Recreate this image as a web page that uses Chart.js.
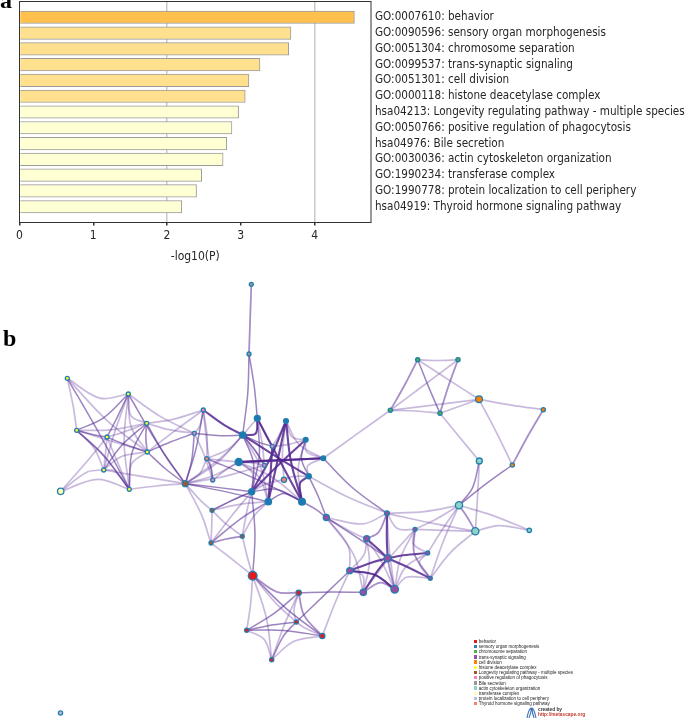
<!DOCTYPE html>
<html>
<head>
<meta charset="utf-8">
<title>Enrichment bars and network</title>
<script src="https://cdn.jsdelivr.net/npm/chart.js@4"></script>
<style>
  html, body { margin: 0; padding: 0; background: #fff; }
  #page { position: relative; width: 685px; height: 719px; overflow: hidden; }
  canvas { position: absolute; left: 0; }
  #bars { top: 0; }
  #network { top: 265px; }
  .panel { position: absolute; font: bold 24px "Liberation Serif", serif; color: #000; line-height: 1; }
  #legend { position: absolute; left: 474px; top: 639px; font: 4.5px/5.2px "Liberation Sans", sans-serif; color: #222; white-space: nowrap; }
  #legend i { display: inline-block; width: 3.4px; height: 3.4px; margin-right: 1.4px; }
  #credit { position: absolute; left: 538px; top: 707px; font: bold 4.8px/5.4px "Liberation Sans", sans-serif; color: #333; }
  #credit span { color: #c0392b; display: block; }
  #logo { position: absolute; left: 526px; top: 707px; }
</style>
</head>
<body>
<div id="page">
  <canvas id="bars" width="685" height="265"></canvas>
  <canvas id="network" width="685" height="454"></canvas>
  <div class="panel" style="left:0;top:-12px">a</div>
  <div class="panel" style="left:3px;top:326px">b</div>
  <div id="legend"></div>
  <svg id="logo" width="11" height="11" viewBox="0 0 11 11" fill="none" stroke="#3b74b8" stroke-width="1.1">
    <path d="M1 11C2 6 3 2 5 1C6 4 4 8 3 11M6 1C8 2 9 6 10 11M6 1C6 5 7 8 8 11"/>
  </svg>
  <div id="credit">created by<span>http://metascape.org</span></div>
</div>
<script>
// bar chart data
const terms = [
  'GO:0007610: behavior',
  'GO:0090596: sensory organ morphogenesis',
  'GO:0051304: chromosome separation',
  'GO:0099537: trans-synaptic signaling',
  'GO:0051301: cell division',
  'GO:0000118: histone deacetylase complex',
  'hsa04213: Longevity regulating pathway - multiple species',
  'GO:0050766: positive regulation of phagocytosis',
  'hsa04976: Bile secretion',
  'GO:0030036: actin cytoskeleton organization',
  'GO:1990234: transferase complex',
  'GO:1990778: protein localization to cell periphery',
  'hsa04919: Thyroid hormone signaling pathway'
];
const logP = [4.54, 3.68, 3.65, 3.26, 3.11, 3.06, 2.97, 2.88, 2.81, 2.76, 2.47, 2.40, 2.20];
const barColors = ['#ffc04d', '#fee08f', '#fee08f', '#fee08f', '#fee08f', '#fee08f',
  '#ffffd4', '#ffffd4', '#ffffd4', '#ffffd4', '#ffffd4', '#ffffd4', '#ffffd4'];

// legend of the network
const legendNames = ['behavior', 'sensory organ morphogenesis', 'chromosome separation', 'trans-synaptic signaling',
  'cell division', 'histone deacetylase complex', 'Longevity regulating pathway - multiple species',
  'positive regulation of phagocytosis', 'Bile secretion', 'actin cytoskeleton organization',
  'transferase complex', 'protein localization to cell periphery', 'Thyroid hormone signaling pathway'];
const legendColors = ['#e41a1c', '#377eb8', '#4daf4a', '#984ea3', '#ff7f00', '#ffff33', '#a65628',
  '#f781bf', '#999999', '#8dd3c7', '#ffffb3', '#bebada', '#fb8072'];

// network nodes
const nodeIds = ['y1','y2','y3','y4','y5','y6','y7','y8','y9','t1','t2','p1','p2','p3','s1','b1','b2','b3','b4',
  'c1','c2','c3','c4','c5','c6','c7','c8','c9','c10','q1','q2','s2','m0',
  'm1','m2','m3','m4','m5','m6','m7','m8','m9','k1','k2','k3','k4',
  'g1','g2','g3','g4','o1','o2','o3','r1','r2','r3','r4','r5','r6','z1'];
const nodeX = [67.3,128.3,76.7,107,146.7,147.3,103.7,129.3,60.7,251.3,249,203.3,194.3,212.7,206.7,185.3,212,242.3,211,
  242.7,257.3,286,305.7,323.3,238.7,308.7,251.7,268.3,302,272.3,264.3,284,326.3,
  387,415,427.7,430.3,366.7,387.7,349.7,363.3,394.7,479.3,459,475.3,529.3,
  417.7,458,390.3,440,479,543.3,512.3,252.7,298.7,296.3,246.7,322.3,271.7,60.5];
const nodeY = [378.3,394,430.3,437,423.3,452,470,489.3,491.3,284.3,354,410,433.3,480,458.7,483.7,510.3,536.3,543,
  435,418.3,421,439.7,458.3,462,476.3,491.7,501.7,501.7,446.3,465.3,479.7,517.5,
  513.3,529.3,553,578.3,538.7,558.3,570.7,592.3,589.3,461,505.3,531.3,530.3,
  359.7,359.7,410.3,413.3,399.3,409.7,465,575.7,592.7,622,630.3,636,659.7,713];
const nodeColors = ['#ffff33','#ffff33','#ffff33','#ffff33','#ffff33','#ffff33','#ffff33','#ffff33','#ffffb3',
  '#999999','#999999','#f781bf','#f781bf','#f781bf','#fb8072','#a65628','#a65628','#a65628','#a65628',
  '#1f78b4','#1f78b4','#1f78b4','#1f78b4','#1f78b4','#1f78b4','#1f78b4','#1f78b4','#1f78b4','#1f78b4',
  '#f781bf','#f781bf','#fb8072','#984ea3',
  '#984ea3','#984ea3','#984ea3','#984ea3','#984ea3','#984ea3','#984ea3','#984ea3','#984ea3',
  '#8dd3c7','#8dd3c7','#8dd3c7','#8dd3c7',
  '#4daf4a','#4daf4a','#4daf4a','#4daf4a','#ff7f00','#ff7f00','#ff7f00',
  '#e41a1c','#e41a1c','#e41a1c','#e41a1c','#e41a1c','#e41a1c','#bebada'];
const nodeRadius = [2,2,2,2,2,2,2,2,3.2,2,2,2,2,2,2,3,2,2,2,
  3.2,3,2.4,2.4,2.4,3.6,2.6,3,3.2,3.4,2,2,2.6,3,
  2.4,2,2,2,3,3.6,3,3.2,3.8,3,3.6,3.6,2.2,
  2.1,2.1,2.1,2.1,3.4,2.1,2.1,4.4,2.6,2.1,2.1,2.6,2.1,2.1];

// edges, by strength
const straightEdges = ['g3-c5','g4-k1','o1-o2','o1-o3','o2-o3','o2-o3','g1-g2','g3-g4','t1-t2','t1-t2','g1-g3','g1-g3','g2-g3','g3-o1','g4-o1',
  'y1-y3','y5-y6','y5-y6','b3-b4','b3-b4','k2-k3','k2-k3','k1-k3','g2-g4','g2-g4','g1-o1','r1-r4'];
const lightEdges = ['y1-y2','y1-y6','y2-y7','y2-y8','y2-y6','y2-y5','y3-y5','y3-y6','y3-y7','y3-y8','y4-y7','y4-y5',
  'y6-y7','y6-y8','y7-y8','y9-y7','y9-y8','y9-y4','y4-y8','y7-b1','y8-b1','y5-p1','y6-p1','y2-p2','y5-p2',
  'p1-p2','p1-s1','p1-p3','p2-p3','s1-c6','s1-c1','p3-c6','b1-s1','b1-c1','b1-c6','b1-b2','b1-b4','b1-q2','b1-c2',
  'b2-b3','b2-b4','b3-c8','b3-c9','b4-c8','b2-c9','c6-c8','c6-c9','c6-q2','c1-q2','c2-q2','q1-c3','q1-c4','c3-c4','c3-c5',
  'c4-c5','c5-c7','c4-c10','s2-c3','s2-c8','s2-c7','c7-m1','c6-c10','c1-c9','c8-b2',
  'm1-m5','m1-m5','m1-m2','m1-m9','m2-m3','m2-m4','m2-m4','m2-m9','m2-m8','m3-m4','m3-m9','m4-m9','m5-m7','m5-m8','m5-m9','m6-m9','m6-m9','m7-m8','m8-m9','m8-m9',
  'm0-m1','m0-m5','m0-m7','m0-m8','k2-k4','k3-k4','k2-m1','k2-m2','k2-m3','k2-m4','k3-m1','k3-m2','k3-m4',
  'r1-r2','r1-r2','r1-r3','r1-r6','r2-r3','r2-r5','r2-r5','r2-r6','r3-r5','r3-r6','r3-r6','r4-r6','r5-r6','r1-b3','r1-b4','r5-m7'];
const midEdges = ['y1-y8','y2-y3','y2-y4','y2-b1','y3-y4','y4-y6','y5-y7','y5-y8','y6-b1','y5-b1','y6-p2','y3-y8',
  't2-c1','t2-c2','p1-b1','p2-b1','p2-c1','p3-s1','s1-c10','b1-c8','b1-c9','b2-c8','b4-c9','c1-q1','c2-q1','c2-c8','c1-c8','c1-q2','c8-c10','c9-c10','c10-m0','c7-m0','c4-c7',
  'c5-m1','m7-m9','k1-k2','o3-k2','g1-g4','r1-c8','r1-r5','r2-r4','r3-r4','r4-r5','r2-m8','r3-m7','m0-m6'];
const boldEdges = ['p1-c1','c1-c2','c3-c9','c3-c8','c4-c8','c6-c5','c6-c5','c1-c7','c2-c10','c3-c10','c9-q1','c7-c10',
  'm1-m6','m5-m6','m6-m3','m6-m4','m6-m7','m6-m8','m7-m9'];

const xy = id => { const i = nodeIds.indexOf(id); return { x: nodeX[i], y: nodeY[i] }; };

// each cluster pulls its edges inward, so they look bundled like the original
const hubs = {};
nodeIds.forEach((id, i) => {
  const h = hubs[id[0]] = hubs[id[0]] || { x: 0, y: 0, n: 0 };
  h.x += nodeX[i]; h.y += nodeY[i]; h.n++;
});
Object.values(hubs).forEach(h => { h.x /= h.n; h.y /= h.n; });

function edgeDatasets(list, color, width, pull) {
  return list.map(e => {
    const [a, b] = e.split('-');
    const pa = xy(a), pb = xy(b), ha = hubs[a[0]], hb = hubs[b[0]];
    const mx = (pa.x + pb.x) / 2, my = (pa.y + pb.y) / 2;
    const k = a[0] === b[0] ? pull : pull * 0.5;
    const bend = {
      x: mx + ((ha.x + hb.x) / 2 - mx) * k,
      y: my + ((ha.y + hb.y) / 2 - my) * k
    };
    return {
      data: [pa, bend, pb], showLine: true, tension: 0.35, borderColor: color,
      borderWidth: width, pointRadius: 0, order: 1
    };
  });
}

new Chart(document.getElementById('network'), {
  type: 'scatter',
  data: {
    datasets: [
      {
        data: nodeIds.map(xy), pointRadius: nodeRadius, pointBackgroundColor: nodeColors,
        pointBorderColor: '#1f7fae', pointBorderWidth: 1.3, order: 0
      },
      ...edgeDatasets(boldEdges, 'rgba(84,39,143,0.85)', 2.1, 0.2),
      ...edgeDatasets(midEdges, 'rgba(90,50,150,0.6)', 1.5, 0.2),
      ...edgeDatasets(lightEdges, 'rgba(105,65,160,0.36)', 1.7, 0.22),
      ...edgeDatasets(straightEdges, 'rgba(105,65,160,0.36)', 1.7, 0.03)
    ]
  },
  options: {
    responsive: false,
    animation: false,
    layout: { padding: 0, autoPadding: false },
    plugins: { legend: { display: false }, tooltip: { enabled: false } },
    scales: {
      x: { type: 'linear', min: 0, max: 685, display: false },
      y: { type: 'linear', min: 265, max: 719, reverse: true, display: false }
    }
  }
});

// plot frame (all four sides are drawn in the reference)
const framePlugin = {
  id: 'frame',
  afterDraw(chart) {
    const { ctx, chartArea: a } = chart;
    ctx.save();
    ctx.strokeStyle = '#333';
    ctx.lineWidth = 1;
    ctx.strokeRect(a.left, a.top, a.right - a.left, a.bottom - a.top);
    ctx.restore();
  }
};

const labelFont = 'DejaVu Sans Condensed, DejaVu Sans';

new Chart(document.getElementById('bars'), {
  type: 'bar',
  data: {
    labels: ['', ...terms, ''],
    datasets: [{
      data: [null, ...logP, null],
      backgroundColor: [null, ...barColors, null],
      borderColor: '#9b9b9b',
      borderWidth: 1,
      barThickness: 12.5
    }]
  },
  plugins: [framePlugin],
  options: {
    indexAxis: 'y',
    responsive: false,
    animation: false,
    layout: { padding: { left: 19.5, top: 1.5, right: 0, bottom: 0 }, autoPadding: false },
    plugins: { legend: { display: false }, tooltip: { enabled: false } },
    scales: {
      x: {
        type: 'linear', min: 0, max: 4.765,
        afterFit(s) { s.height = 42.5; s.paddingLeft = 0; s.paddingRight = 0; },
        grid: {
          color: c => (c.tick && (c.tick.value === 2 || c.tick.value === 4)) ? '#c9c9c9' : 'rgba(0,0,0,0)',
          lineWidth: 1.5, tickColor: '#333', tickLength: 3
        },
        border: { display: false },
        ticks: { stepSize: 1, includeBounds: false, font: { family: labelFont, size: 12 }, color: '#262626', padding: 3, maxRotation: 0 },
        title: { display: true, text: '-log10(P)', font: { family: labelFont, size: 12 }, color: '#262626', padding: { top: 3, bottom: 1 } }
      },
      y: {
        type: 'category', position: 'right', offset: false,
        afterFit(s) { s.width = 314; s.paddingTop = 0; s.paddingBottom = 0; },
        grid: { display: false, offset: false, drawTicks: false },
        border: { display: false },
        ticks: { autoSkip: false, font: { family: labelFont, size: 11.62 }, color: '#262626', padding: 4 }
      }
    }
  }
});

// html legend
const legendEl = document.getElementById('legend');
legendNames.forEach((name, i) => {
  const row = document.createElement('div');
  row.innerHTML = `<i style="background:${legendColors[i]}"></i>${name}`;
  legendEl.appendChild(row);
});
</script>
</body>
</html>
